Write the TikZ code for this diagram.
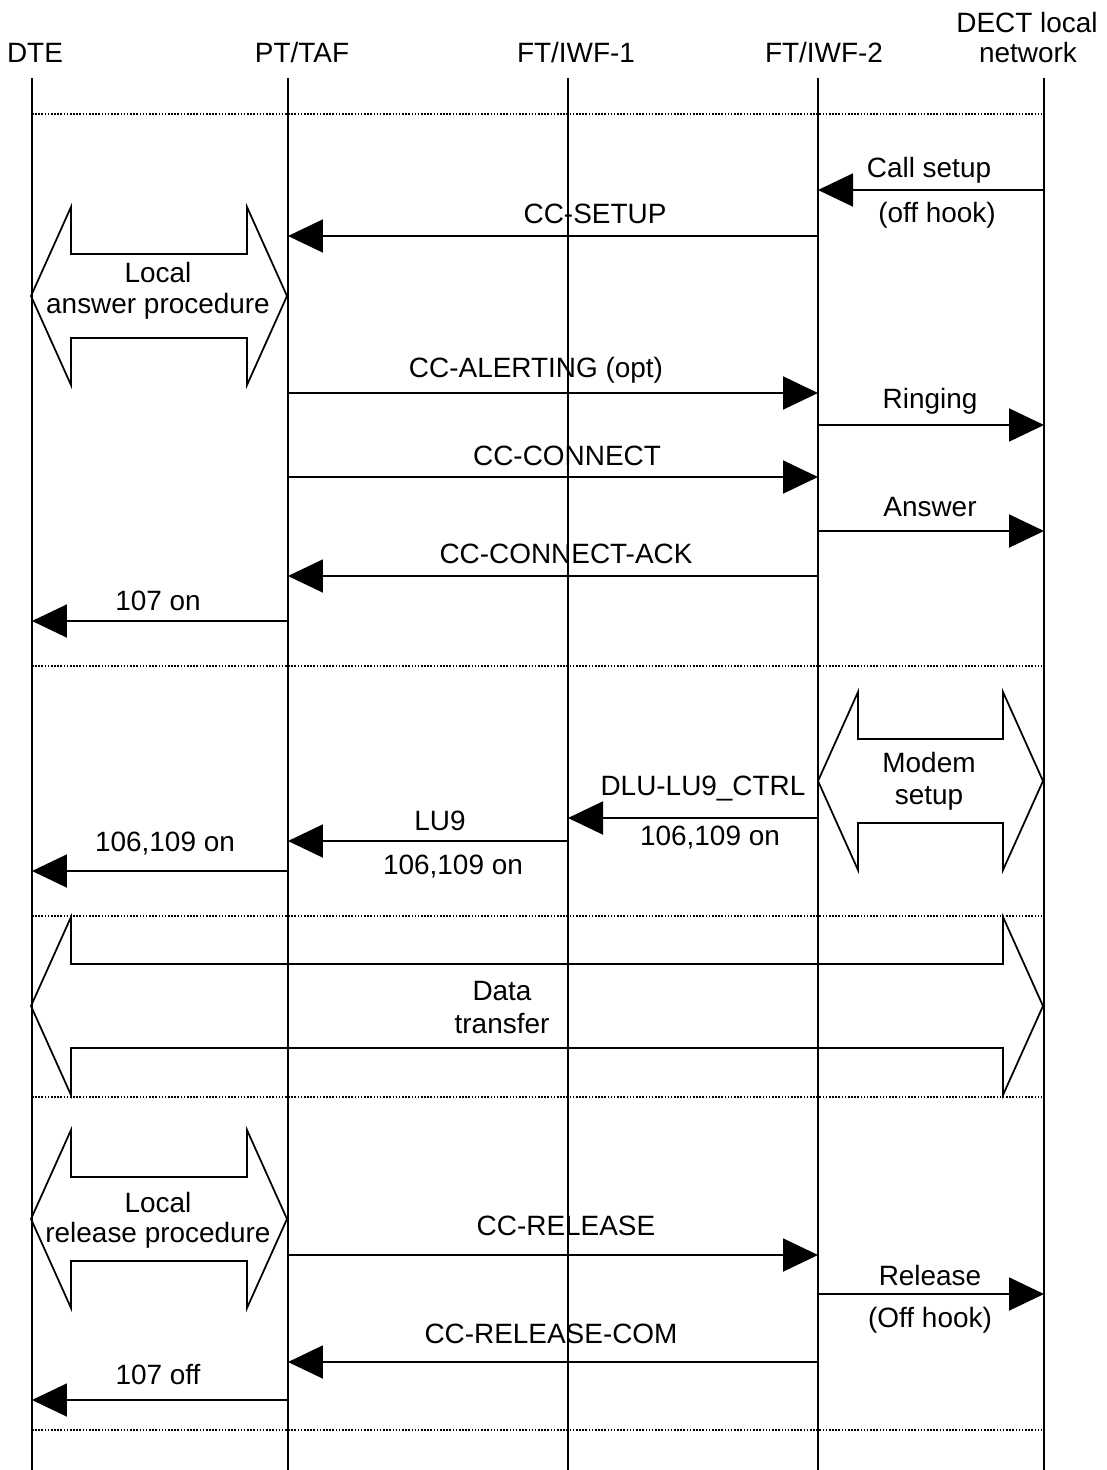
\documentclass[tikz,border=0pt]{standalone}
\usepackage{fontspec}
\setmainfont{Liberation Sans}
\usetikzlibrary{arrows.meta}

\begin{document}
\begin{tikzpicture}[x=0.02cm, y=-0.02cm, >={Triangle[length=0.7cm, width=0.66cm]},
		font=\fontsize{15.9}{19}\selectfont,
		life/.style={line width=1pt},
		msg/.style={->, line width=1.1pt},
		sep/.style={line width=0.9pt, dash pattern=on 0.9pt off 0.9pt},
		lbl/.style={anchor=base, inner sep=0pt}]
		\def\dblarrow#1#2#3{\draw[line width=1pt] (#1,#3) -- (#1+40,#3-89) -- (#1+40,#3-42) -- (#2-40,#3-42) -- (#2-40,#3-89) -- (#2,#3) -- (#2-40,#3+89) -- (#2-40,#3+42) -- (#1+40,#3+42) -- (#1+40,#3+89) -- cycle;}
		\useasboundingbox (0,0) rectangle (1106,1470);
		% entities
		\node[lbl] (hdte) at (35,63) {DTE};
		\node[lbl] (hpt) at (302,63) {PT/TAF};
		\node[lbl] (hft1) at (576,63) {FT/IWF-1};
		\node[lbl] (hft2) at (824,63) {FT/IWF-2};
		\node[lbl] (hdect) at (1027,33) {DECT local};
		\node[lbl] (hnet) at (1028,63) {network};
		\coordinate (dte) at (32,78);
		\coordinate (pt) at (288,78);
		\coordinate (ft1) at (568,78);
		\coordinate (ft2) at (818,78);
		\coordinate (dect) at (1044,78);
		\draw[life] (dte) -- (dte |- 0,1470);
		\draw[life] (pt) -- (pt |- 0,1470);
		\draw[life] (ft1) -- (ft1 |- 0,1470);
		\draw[life] (ft2) -- (ft2 |- 0,1470);
		\draw[life] (dect) -- (dect |- 0,1470);
		% phase separators
		\draw[sep] (dte |- 0,114) -- (dect |- 0,114);
		\draw[sep] (dte |- 0,666) -- (dect |- 0,666);
		\draw[sep] (dte |- 0,916) -- (dect |- 0,916);
		\draw[sep] (dte |- 0,1097) -- (dect |- 0,1097);
		\draw[sep] (dte |- 0,1430) -- (dect |- 0,1430);
		% call setup
		\draw[msg] (dect |- 0,190) -- (ft2 |- 0,190);
		\node[lbl] (lcall) at (929,177) {Call setup};
		\node[lbl] (lhook) at (937,222) {(off hook)};
		\draw[msg] (ft2 |- 0,236) -- (pt |- 0,236);
		\node[lbl] (lsetup) at (595,223) {CC-SETUP};
		\dblarrow{31}{287}{296}
		\node[lbl] (lans1) at (158,282) {Local};
		\node[lbl] (lans2) at (158,313) {answer procedure};
		\draw[msg] (pt |- 0,393) -- (ft2 |- 0,393);
		\node[lbl] (lalert) at (536,377) {CC-ALERTING (opt)};
		\draw[msg] (ft2 |- 0,425) -- (dect |- 0,425);
		\node[lbl] (lring) at (930,408) {Ringing};
		\draw[msg] (pt |- 0,477) -- (ft2 |- 0,477);
		\node[lbl] (lconn) at (567,465) {CC-CONNECT};
		\draw[msg] (ft2 |- 0,531) -- (dect |- 0,531);
		\node[lbl] (lanswer) at (930,516) {Answer};
		\draw[msg] (ft2 |- 0,576) -- (pt |- 0,576);
		\node[lbl] (lack) at (566,563) {CC-CONNECT-ACK};
		\draw[msg] (pt |- 0,621) -- (dte |- 0,621);
		\node[lbl] (lon) at (158,610) {107 on};
		% modem setup
		\dblarrow{818}{1043}{781}
		\node[lbl] (lmod1) at (929,772) {Modem};
		\node[lbl] (lmod2) at (929,804) {setup};
		\draw[msg] (ft2 |- 0,818) -- (ft1 |- 0,818);
		\node[lbl] (ldlu) at (703,795) {DLU-LU9\_CTRL};
		\node[lbl] (ldluon) at (710,845) {106,109 on};
		\draw[msg] (ft1 |- 0,841) -- (pt |- 0,841);
		\node[lbl] (llu) at (440,830) {LU9};
		\node[lbl] (lluon) at (453,874) {106,109 on};
		\draw[msg] (pt |- 0,871) -- (dte |- 0,871);
		\node[lbl] (lvon) at (165,851) {106,109 on};
		% data transfer
		\dblarrow{31}{1043}{1006}
		\node[lbl] (ldata1) at (502,1000) {Data};
		\node[lbl] (ldata2) at (502,1033) {transfer};
		% release
		\dblarrow{31}{287}{1219}
		\node[lbl] (lrel1) at (158,1212) {Local};
		\node[lbl] (lrel2) at (158,1242) {release procedure};
		\draw[msg] (pt |- 0,1255) -- (ft2 |- 0,1255);
		\node[lbl] (lrelease) at (566,1235) {CC-RELEASE};
		\draw[msg] (ft2 |- 0,1294) -- (dect |- 0,1294);
		\node[lbl] (lrelnet) at (930,1285) {Release};
		\node[lbl] (lrelhook) at (930,1327) {(Off hook)};
		\draw[msg] (ft2 |- 0,1362) -- (pt |- 0,1362);
		\node[lbl] (lcom) at (551,1343) {CC-RELEASE-COM};
		\draw[msg] (pt |- 0,1400) -- (dte |- 0,1400);
		\node[lbl] (loff) at (158,1384) {107 off};
	\end{tikzpicture}
\end{document}
